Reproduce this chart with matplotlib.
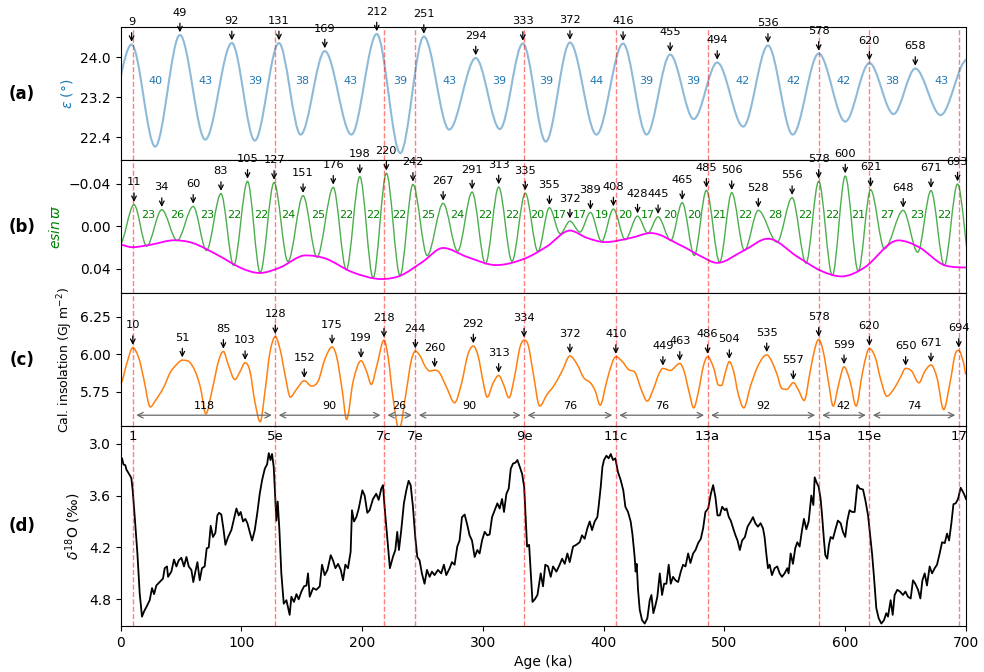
import numpy as np
import matplotlib
matplotlib.use("Agg")
import matplotlib.pyplot as plt
from matplotlib.path import Path
from matplotlib.patches import PathPatch

# ---------------- (a) obliquity turning points (ka, degrees) ----------------
obl_age = [-11, 9, 28.5, 49, 70, 92, 111, 131, 149, 169, 191, 212, 231.5, 251,
           272, 294, 314, 333, 352, 372, 394, 416, 435.5, 455, 474.5, 494,
           515.5, 536, 556.5, 578, 600, 620, 640, 658, 679, 701]
obl_val = [22.75, 24.25, 22.21, 24.44, 22.35, 24.28, 22.33, 24.28, 22.45, 24.12,
           22.45, 24.46, 22.08, 24.41, 22.55, 23.98, 22.56, 24.27, 22.31, 24.29,
           22.45, 24.27, 22.45, 24.05, 22.76, 23.89, 22.61, 24.23, 22.45, 24.07,
           22.71, 23.88, 22.86, 23.77, 22.84, 23.95]

# ---------------- (b) precession index turning points ----------------
prec_age = [-1, 11, 21.5, 34, 46.7, 60, 71, 83, 93.5, 105, 115.5, 127, 138.5, 151,
            162.5, 176, 186.8, 198, 209, 220, 231.3, 242, 253.8, 267, 279, 291,
            302, 313, 324, 335, 345.5, 355, 364, 372, 380.3, 389, 398.2, 408,
            417.8, 428, 436.5, 445, 455.5, 465, 475, 485, 496, 506, 516.5, 528,
            543.5, 556, 567.5, 578, 589.3, 600, 610.8, 621, 632.5, 648, 660, 671,
            682, 693, 704]
prec_val = [0.0178, -0.0201, 0.0188, -0.0154, 0.0135, -0.0185, 0.0229, -0.0305,
            0.0370, -0.0420, 0.0436, -0.0410, 0.0332, -0.0286, 0.0292, -0.0364,
            0.0410, -0.0465, 0.0486, -0.0496, 0.0464, -0.0392, 0.0276, -0.0214,
            0.0235, -0.0320, 0.0354, -0.0367, 0.0330, -0.0310, 0.0238, -0.0173,
            0.0072, -0.0047, 0.0056, -0.0129, 0.0144, -0.0160, 0.0128, -0.0094,
            0.0066, -0.0088, 0.0135, -0.0220, 0.0276, -0.0336, 0.0339, -0.0314,
            0.0229, -0.0148, 0.0150, -0.0267, 0.0348, -0.0420, 0.0464, -0.0470,
            0.0423, -0.0342, 0.0213, -0.0148, 0.0245, -0.0333, 0.0370, -0.0395,
            0.0380]

# eccentricity envelope
ecc_age = [0, 9, 25, 44, 60, 80, 100, 115, 132, 153, 170, 192, 216, 232, 250, 267,
           287, 311, 334, 353, 372, 386, 401, 422, 439, 464, 480, 494, 516, 536,
           561, 580, 597, 616, 644, 661, 683, 700]
ecc_val = [0.0176, 0.0198, 0.0174, 0.0133, 0.0160, 0.0270, 0.0395, 0.0440, 0.0388,
           0.0275, 0.0306, 0.0433, 0.0497, 0.0463, 0.0335, 0.0205, 0.0290, 0.0366,
           0.0307, 0.0190, 0.0042, 0.0110, 0.0150, 0.0112, 0.0065, 0.0182, 0.0280,
           0.0345, 0.0229, 0.0118, 0.0292, 0.0420, 0.0472, 0.0388, 0.0134, 0.0197,
           0.0370, 0.0388]

# ---------------- (c) caloric insolation (GJ m-2) ----------------
ins_age = [0, 5, 10, 15, 19, 24.5, 28.5, 35.5, 41, 46.5, 51, 56, 61.5, 66, 70.5,
           75.5, 81, 85, 89, 94.5, 99, 103, 107, 111, 115.5, 119.5, 123.5, 128,
           132, 136, 140.5, 145.5, 152, 158, 163.5, 169, 175, 179, 183.5, 187,
           192.5, 199, 203.5, 207.5, 212, 218, 221.5, 225.5, 230.5, 236.5, 240.5,
           244, 248, 252, 256, 260, 264, 270, 276.5, 282, 287.5, 292, 296, 300,
           303.5, 308.5, 313, 317, 321.5, 326.5, 330.5, 334, 337.5, 341.5, 347,
           353, 358.5, 365.5, 372, 378, 383.5, 389, 393, 397, 402.5, 407, 410,
           415, 420.5, 426, 431.5, 436, 441.5, 445.5, 449, 455, 463, 466.5, 470.5,
           474.5, 478.5, 482.5, 486, 491, 495, 497.5, 501, 504, 507.5, 511.5, 516,
           521.5, 527, 532, 535, 539, 543.5, 547.5, 551.5, 557, 561, 566, 571, 575,
           578, 582, 586, 590, 594.5, 599, 604, 609, 614, 618, 620, 625, 629,
           634.5, 640, 645.5, 650, 655, 661, 666, 671, 676, 681.5, 687, 691, 694,
           698, 700]
ins_val = [5.81, 5.94, 6.045, 5.975, 5.84, 5.65, 5.69, 5.78, 5.88, 5.935, 5.962,
           5.955, 5.89, 5.78, 5.604, 5.756, 5.956, 6.02, 5.933, 5.833, 5.889, 5.945,
           5.889, 5.689, 5.551, 5.756, 6.011, 6.118, 6.033, 5.867, 5.716, 5.767,
           5.825, 5.789, 5.822, 5.967, 6.05, 5.978, 5.756, 5.567, 5.822, 5.958,
           5.889, 5.80, 5.922, 6.095, 5.978, 5.711, 5.50, 5.756, 5.956, 6.022,
           5.989, 5.922, 5.889, 5.895, 5.878, 5.778, 5.678, 5.80, 6.0, 6.056, 5.989,
           5.822, 5.716, 5.811, 5.86, 5.80, 5.711, 5.867, 6.044, 6.095, 6.06, 5.88,
           5.656, 5.733, 5.789, 5.889, 5.99, 5.933, 5.844, 5.811, 5.756, 5.662,
           5.822, 5.944, 5.985, 5.956, 5.90, 5.878, 5.756, 5.689, 5.778, 5.867,
           5.907, 5.893, 5.94, 5.889, 5.756, 5.644, 5.756, 5.922, 5.985, 5.911,
           5.796, 5.793, 5.889, 5.952, 5.889, 5.733, 5.644, 5.789, 5.911, 5.982,
           5.997, 5.956, 5.867, 5.773, 5.767, 5.812, 5.767, 5.693, 5.889, 6.044,
           6.10, 6.011, 5.822, 5.656, 5.80, 5.917, 5.822, 5.656, 5.867, 6.011, 6.04,
           5.978, 5.844, 5.722, 5.767, 5.844, 5.907, 5.889, 5.811, 5.889, 5.93,
           5.844, 5.633, 5.822, 6.0, 6.027, 5.944, 5.867]
ins_peaks = [10, 51, 85, 103, 128, 152, 175, 199, 218, 244, 260, 292, 313, 334,
             372, 410, 449, 463, 486, 504, 535, 557, 578, 599, 620, 650, 671, 694]

# ---------------- (d) benthic d18O stack (per mil) ----------------
d18o_age = [0, 1.1, 2.2, 3.8, 4.7, 6.0, 7.7, 8.8, 9.9, 11.6, 13.8, 15.7, 17.6, 19.3,
            21.2, 24, 25.9, 27.6, 29.5, 32.3, 35, 36.4, 38.3, 39.2, 41.9, 44.1,
            46.1, 48, 50.2, 52.4, 54.4, 56.3, 58.5, 60.1, 61.8, 63.5, 65.4, 67.3,
            69.5, 71.2, 72.9, 74.5, 76.4, 78.4, 80, 81.4, 83.3, 85, 86.7, 88.9,
            91.6, 93.8, 95.8, 97.7, 99.3, 101.3, 103.2, 104.9, 106.8, 108.8, 111,
            113.2, 115.1, 117.1, 119.3, 121.2, 122.6, 124, 125.3, 126.7, 127.5,
            128.9, 130, 131.4, 133, 135, 137.2, 138.5, 139.9, 141.3, 143.5, 145.5,
            147.4, 149.6, 151.8, 153.8, 155.1, 156.5, 159.3, 162, 164.8, 166.7,
            168.9, 171.2, 173.9, 175.8, 177.8, 180, 182.2, 184.1, 186, 188.2, 190.4,
            191.5, 193.2, 195.1, 197.1, 198.7, 200.1, 202, 204.2, 206.1, 208.9,
            211.6, 213.6, 215.8, 217.2, 218.5, 219.9, 221.3, 222.9, 225.4, 227.4,
            229, 230.4, 232.3, 234.5, 236.5, 238.4, 240.1, 242, 243.9, 245.6, 247.5,
            249.4, 251.6, 253.6, 255.8, 257.7, 259.9, 262.7, 265.4, 267.6, 269.6,
            272.4, 274.3, 276.5, 278.7, 280.6, 282.6, 284.8, 287, 288.9, 290.9,
            293.1, 295.3, 297.2, 299.2, 301.4, 303.6, 305.5, 307.5, 309.7, 311.9,
            313.8, 315.8, 317.4, 319.4, 321.3, 323, 324.9, 326.9, 328.5, 330.5,
            332.4, 334.1, 335.2, 336.5, 338.2, 339.6, 341, 342.9, 345.1, 347.8,
            349.7, 351.6, 353.9, 356.1, 358, 360.8, 363.5, 365.5, 367.7, 369.9,
            371.8, 374.6, 377.3, 380.1, 382, 384.2, 386.4, 388.4, 390.3, 392.5,
            394.7, 395.9, 397.5, 398.9, 400.2, 402.2, 404.1, 405.8, 407.7, 409.6,
            411.8, 414, 416.2, 417.9, 420.1, 422.3, 423.7, 425.6, 426.4, 427.3,
            428.4, 429.8, 431.7, 433.9, 436.1, 438.1, 439.5, 441.1, 442.8, 444.4,
            446.4, 448.3, 450, 451.9, 453.8, 455.5, 457.4, 459.4, 461.6, 463.8,
            465.7, 467.7, 469.9, 471.8, 474, 476, 478.2, 480.4, 482.3, 484.2, 486.5,
            488.7, 490.6, 492.5, 494.2, 496.1, 498.1, 500.3, 501.7, 503.6, 505.2,
            507.2, 509.1, 510.8, 512.7, 514.6, 516.9, 519.1, 521.7, 523.6, 525.5,
            527.7, 529.9, 531.9, 533.2, 534.6, 536, 537.4, 539.3, 541.5, 543.7,
            545.7, 547.6, 549.8, 552, 553.1, 554.8, 556.7, 558.6, 560.3, 562.2,
            564.2, 565.8, 567.8, 569.7, 571.9, 573.6, 574.7, 576, 578, 579.6, 580.7,
            582.4, 583.5, 585.1, 586.5, 587.9, 589.8, 591.7, 593.9, 596.2, 598.1,
            600, 601.7, 603.6, 605.6, 607.8, 610, 612, 614.7, 616.6, 618.9, 620.5,
            622.2, 623.8, 625.7, 627.7, 629.9, 632.1, 634, 635.4, 637.6, 639.3,
            640.9, 643.1, 645.3, 647.8, 649.8, 652, 654.2, 656.1, 658, 660.3, 662.2,
            663.9, 665.8, 667.7, 669.9, 671.9, 674.1, 676, 678.2, 680.2, 682.4,
            684.3, 686, 687.9, 689.6, 691.5, 693.4, 695.6, 697.6, 699.5, 700]
d18o_val = [3.21, 3.17, 3.24, 3.25, 3.30, 3.33, 3.37, 3.40, 3.54, 3.85, 4.27, 4.73,
            5.00, 4.94, 4.89, 4.81, 4.67, 4.74, 4.64, 4.60, 4.56, 4.44, 4.42, 4.54,
            4.48, 4.34, 4.42, 4.35, 4.32, 4.42, 4.31, 4.42, 4.46, 4.60, 4.48, 4.37,
            4.58, 4.44, 4.42, 4.21, 4.20, 3.95, 4.08, 4.03, 3.83, 3.80, 3.82, 3.98,
            4.17, 4.08, 4.00, 3.87, 3.75, 3.83, 3.79, 3.90, 3.87, 3.92, 4.02, 4.12,
            4.00, 3.79, 3.58, 3.42, 3.29, 3.24, 3.11, 3.19, 3.12, 3.27, 3.50, 3.89,
            3.67, 4.00, 4.50, 4.85, 4.81, 4.89, 4.98, 4.77, 4.83, 4.74, 4.80, 4.71,
            4.65, 4.64, 4.50, 4.77, 4.67, 4.69, 4.65, 4.40, 4.52, 4.46, 4.29, 4.35,
            4.44, 4.39, 4.46, 4.58, 4.40, 4.44, 4.25, 3.77, 3.90, 3.85, 3.75, 3.64,
            3.54, 3.60, 3.80, 3.77, 3.64, 3.58, 3.65, 3.52, 3.48, 3.73, 3.96, 4.19,
            4.44, 4.31, 4.23, 4.02, 4.23, 4.00, 3.69, 3.54, 3.43, 3.48, 3.73, 4.08,
            4.31, 4.35, 4.50, 4.62, 4.46, 4.54, 4.48, 4.52, 4.46, 4.50, 4.40, 4.52,
            4.44, 4.37, 4.40, 4.19, 4.12, 3.85, 3.82, 3.94, 4.06, 4.12, 4.31, 4.23,
            4.27, 4.12, 4.02, 4.06, 4.05, 3.85, 3.77, 3.69, 3.75, 3.64, 3.79, 3.58,
            3.52, 3.29, 3.23, 3.22, 3.19, 3.27, 3.35, 3.50, 3.81, 4.19, 4.17, 4.50,
            4.83, 4.80, 4.75, 4.50, 4.65, 4.40, 4.42, 4.54, 4.42, 4.48, 4.40, 4.33,
            4.39, 4.27, 4.37, 4.19, 4.17, 4.14, 4.06, 4.10, 3.98, 3.90, 4.00, 3.90,
            3.85, 3.71, 3.50, 3.27, 3.19, 3.14, 3.17, 3.12, 3.19, 3.17, 3.33, 3.42,
            3.54, 3.73, 3.79, 3.90, 4.04, 4.31, 4.48, 4.39, 4.69, 4.92, 5.04, 5.08,
            5.02, 4.81, 4.75, 4.96, 4.87, 4.77, 4.50, 4.75, 4.62, 4.62, 4.40, 4.62,
            4.54, 4.58, 4.60, 4.48, 4.40, 4.42, 4.27, 4.38, 4.27, 4.23, 4.15, 4.10,
            3.98, 3.79, 3.75, 3.58, 3.48, 3.62, 3.83, 3.83, 3.73, 3.77, 3.75, 3.85,
            3.89, 3.98, 4.06, 4.12, 4.23, 4.12, 4.08, 3.96, 3.90, 3.85, 3.92, 3.96,
            3.92, 3.98, 4.08, 4.27, 4.44, 4.40, 4.52, 4.44, 4.42, 4.50, 4.54, 4.50,
            4.44, 4.50, 4.27, 4.39, 4.21, 4.14, 4.19, 4.00, 3.87, 3.99, 3.90, 3.60,
            3.71, 3.39, 3.44, 3.50, 3.64, 3.81, 4.12, 4.29, 4.33, 4.17, 4.08, 4.10,
            4.00, 3.89, 3.92, 4.02, 4.08, 3.89, 3.77, 3.79, 3.79, 3.48, 3.52, 3.53,
            3.65, 3.83, 4.04, 4.27, 4.54, 4.90, 5.02, 5.08, 5.04, 4.96, 5.00, 4.81,
            4.98, 4.75, 4.69, 4.71, 4.75, 4.71, 4.77, 4.79, 4.58, 4.62, 4.69, 4.79,
            4.58, 4.50, 4.64, 4.42, 4.50, 4.44, 4.40, 4.27, 4.14, 4.15, 4.04, 4.12,
            3.92, 3.70, 3.69, 3.64, 3.51, 3.56, 3.62, 3.64]

# ---------------- interglacial markers ----------------
mis_age = [10, 128, 218, 244, 334, 410, 486, 578, 620, 694]
mis_label = ["1", "5e", "7c", "7e", "9e", "11c", "13a", "15a", "15e", "17"]


def smooth_path(x, y):
    """Monotone cubic Bezier path through the given points."""
    x = np.asarray(x, float)
    y = np.asarray(y, float)
    h = np.diff(x)
    d = np.diff(y) / h
    m = np.zeros_like(y)
    for i in range(1, len(y) - 1):
        if d[i - 1] * d[i] > 0:
            s = (y[i + 1] - y[i - 1]) / (x[i + 1] - x[i - 1])
            lim = 3 * min(abs(d[i - 1]), abs(d[i]))
            m[i] = np.sign(s) * min(abs(s), lim)
    verts = [(x[0], y[0])]
    codes = [Path.MOVETO]
    for i in range(len(x) - 1):
        verts += [(x[i] + h[i] / 3, y[i] + m[i] * h[i] / 3),
                  (x[i + 1] - h[i] / 3, y[i + 1] - m[i + 1] * h[i] / 3),
                  (x[i + 1], y[i + 1])]
        codes += [Path.CURVE4] * 3
    return Path(verts, codes)


def draw_curve(ax, x, y, **kw):
    patch = PathPatch(smooth_path(x, y), fill=False, **kw)
    ax.add_patch(patch)
    return patch


def mark_peak(ax, x, y):
    ax.annotate(f"{x:g}", xy=(x, y), xytext=(0, 12.5), textcoords="offset points",
                ha="center", va="bottom", fontsize=8.2,
                arrowprops=dict(arrowstyle="->", color="black", lw=0.9))


fig = plt.figure(figsize=(9.84, 6.72), dpi=100)
gs = fig.add_gridspec(4, 1, height_ratios=[2, 2, 2, 3], hspace=0,
                      left=0.1227, right=0.9817, top=0.9598, bottom=0.0685)
ax_a = fig.add_subplot(gs[0])
ax_b = fig.add_subplot(gs[1], sharex=ax_a)
ax_c = fig.add_subplot(gs[2], sharex=ax_a)
ax_d = fig.add_subplot(gs[3], sharex=ax_a)
axes = [ax_a, ax_b, ax_c, ax_d]

# (a) obliquity
draw_curve(ax_a, obl_age, obl_val, ec="#1f77b4", alpha=0.5, lw=1.5)
obl_peak_age = obl_age[1::2]
obl_peak_val = obl_val[1::2]
for a, v in zip(obl_peak_age, obl_peak_val):
    if a <= 700:
        mark_peak(ax_a, a, v)
for a0, a1 in zip(obl_peak_age[:-1], obl_peak_age[1:]):
    ax_a.text((a0 + a1) / 2, 23.52, f"{a1 - a0:g}", color="#1f77b4",
              ha="center", va="center", fontsize=8)
ax_a.set_ylim(21.94, 24.6)
ax_a.set_yticks([22.4, 23.2, 24.0])
ax_a.set_ylabel(r"$\varepsilon$ (°)", color="#1f77b4")

# (b) precession index and eccentricity
draw_curve(ax_b, prec_age, prec_val, ec="#2ca02c", alpha=0.85, lw=1.0)
draw_curve(ax_b, ecc_age, ecc_val, ec="magenta", lw=1.3)
prec_peak_age = prec_age[1::2]
prec_peak_val = prec_val[1::2]
for a, v in zip(prec_peak_age, prec_peak_val):
    mark_peak(ax_b, a, v)
for a0, a1 in zip(prec_peak_age[:-1], prec_peak_age[1:]):
    ax_b.text((a0 + a1) / 2, -0.010, f"{a1 - a0:g}", color="green",
              ha="center", va="center", fontsize=8)
ax_b.set_ylim(0.063, -0.062)
ax_b.set_yticks([-0.04, 0.0, 0.04])
ax_b.set_ylabel(r"$esin\,\varpi$", color="green")

# (c) caloric insolation
draw_curve(ax_c, ins_age, ins_val, ec="#ff7f0e", lw=1.1, clip_on=False)
for a in ins_peaks:
    mark_peak(ax_c, a, ins_val[ins_age.index(a)])
for a0, a1 in zip(mis_age[:-1], mis_age[1:]):
    ax_c.annotate("", xy=(a1, 5.595), xytext=(a0, 5.595),
                  arrowprops=dict(arrowstyle="<->", color="dimgray", lw=0.9,
                                  shrinkA=2.5, shrinkB=2.5))
    ax_c.text((a0 + a1) / 2, 5.655, f"{a1 - a0}", ha="center", va="center",
              fontsize=8)
ax_c.set_ylim(5.521, 6.408)
ax_c.set_yticks([5.75, 6.0, 6.25])
ax_c.set_ylabel("Cal. insolation (GJ m$^{-2}$)", fontsize=9)

# (d) benthic d18O
ax_d.plot(d18o_age, d18o_val, color="black", lw=1.3)
for a, lab in zip(mis_age, mis_label):
    ax_d.text(a, 2.923, lab, ha="center", va="center", fontsize=9.5)
ax_d.set_ylim(5.108, 2.80)
ax_d.set_yticks([3.0, 3.6, 4.2, 4.8])
ax_d.set_ylabel(r"$\delta^{18}$O (‰)")
ax_d.set_xlabel("Age (ka)")
ax_d.set_xlim(0, 700)
ax_d.set_xticks(range(0, 701, 100))

for ax in axes:
    for a in mis_age:
        ax.axvline(a, color="red", ls="--", lw=1, alpha=0.5)
for ax in axes[:3]:
    ax.tick_params(axis="x", bottom=False, labelbottom=False)

for ax, lab in zip(axes, ["(a)", "(b)", "(c)", "(d)"]):
    pos = ax.get_position()
    fig.text(0.0224, (pos.y0 + pos.y1) / 2, lab, ha="center", va="center",
             fontsize=12, fontweight="bold")

fig.savefig("out.png", dpi=100)
